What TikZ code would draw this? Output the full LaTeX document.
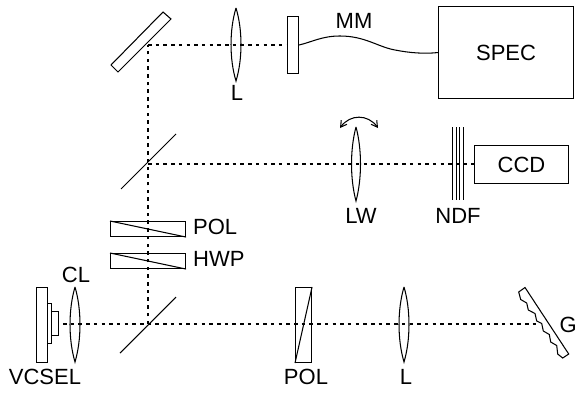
\documentclass[tikz,border=0pt]{standalone}
\usepackage{fontspec}
\setmainfont{Liberation Sans}
\usetikzlibrary{arrows.meta}
\tikzset{
  x=1pt,y=-1pt,
  optic/.style={draw=black,line width=1.05pt,line join=miter},
  beam/.style={draw=black,line width=1.3pt,dash pattern=on 3.5pt off 4.2pt},
  lab/.style={inner sep=0pt,font=\fontsize{22}{22}\selectfont},
  box/.style={optic,rectangle,inner sep=0pt,anchor=north west},
}
\newcommand{\lensat}[4]{\draw[optic] (#1,#2) .. controls (#1-#4*1.33,{#2+(#3-#2)*0.3}) and (#1-#4*1.33,{#2+(#3-#2)*0.7}) .. (#1,#3) .. controls (#1+#4*1.33,{#2+(#3-#2)*0.7}) and (#1+#4*1.33,{#2+(#3-#2)*0.3}) .. (#1,#2);}
\begin{document}
\begin{tikzpicture}
\useasboundingbox (0,0) rectangle (577,393);
\clip (0,0) rectangle (577,393);
% named points
\coordinate (src) at (63,324);
\coordinate (bs1) at (148,324);
\coordinate (bs2) at (148,164);
\coordinate (mir) at (148,45);
\coordinate (gr) at (538,324);
% boxes
\node[box,minimum width=11pt,minimum height=57pt] (mm) at (287,16) {};
\node[box,minimum width=135pt,minimum height=92pt] (spec) at (438,6) {};
\node[box,minimum width=94pt,minimum height=38pt] (ccd) at (474,145) {};
\node[lab] at (spec.center) {SPEC};
\node[lab] at (ccd.center) {CCD};
% beams
\draw[beam] (src) -- (gr);
\draw[beam] (bs1) -- (mir);
\draw[beam] (mir) -- (mm.west |- mir);
\draw[beam] (bs2) -- (ccd.west |- bs2);
% VCSEL
\draw[optic] (36.5,287.5) rectangle (47.5,362.5);
\draw[optic] (47.5,303.5) rectangle (51.5,343.5);
\draw[optic] (51.5,311.5) rectangle (58.5,335.5);
% lenses
\lensat{75}{287}{362}{5}
\lensat{404}{287}{362}{5}
\lensat{236}{8}{81}{5}
\lensat{356}{127}{201}{4.5}
% beam splitters
\draw[optic] (120,353) -- (176,297);
\draw[optic] (121,189) -- (176,134);
% mirror
\draw[optic] (163,12) -- (171,19) -- (118,72) -- (111,65) -- cycle;
% pol and hwp
\node[box,minimum width=75pt,minimum height=15pt] (pol) at (110,221) {};
\node[box,minimum width=75pt,minimum height=15pt] (hwp) at (110,253) {};
\draw[optic] (pol.north west) -- (pol.south east);
\draw[optic] (hwp.north west) -- (hwp.south east);
\node[box,minimum width=16pt,minimum height=75pt] (pol2) at (295,287) {};
\draw[optic] (pol2.south west) -- (pol2.north east);
% grating
\draw[optic] (525,287.5) -- (568.7,354) -- (562.7,358) -- (557.7,354) -- (556.7,345.5) -- (550.7,342) -- (549.3,334.5) -- (543.3,331) -- (541.7,323.5) -- (536.7,321) -- (535,313.5) -- (528.3,310) -- (526.7,303) -- (520.7,299.5) -- (518.7,292) -- cycle;
% fibre
\draw[line width=1.05pt] (mm.east |- mir) .. controls (312,42) and (322,36) .. (340,36) .. controls (365,36) and (378,47) .. (395,50) .. controls (410,53) and (425,54) .. (spec.west);
% rotation arrow
\draw[line width=1.05pt,{Straight Barb[length=6pt,width=7pt]}-{Straight Barb[length=6pt,width=7pt]}] (340,128) .. controls (350,114) and (368,114) .. (378,128);
% NDF
\foreach \xx in {452.5,456,459.5,463} \draw[line width=1pt] (\xx,127) -- (\xx,200);
% labels
\node[lab,anchor=west] at (193,226.5) {POL};
\node[lab,anchor=west] at (193,259) {HWP};
\node[lab] at (76,275) {CL};
\node[lab] at (45,377) {VCSEL};
\node[lab] at (306,377) {POL};
\node[lab] at (406,377) {L};
\node[lab,anchor=west] at (559.5,325) {G};
\node[lab] at (237,93) {L};
\node[lab] at (354,21) {MM};
\node[lab] at (361,216) {LW};
\node[lab] at (458,216) {NDF};
\end{tikzpicture}
\end{document}
